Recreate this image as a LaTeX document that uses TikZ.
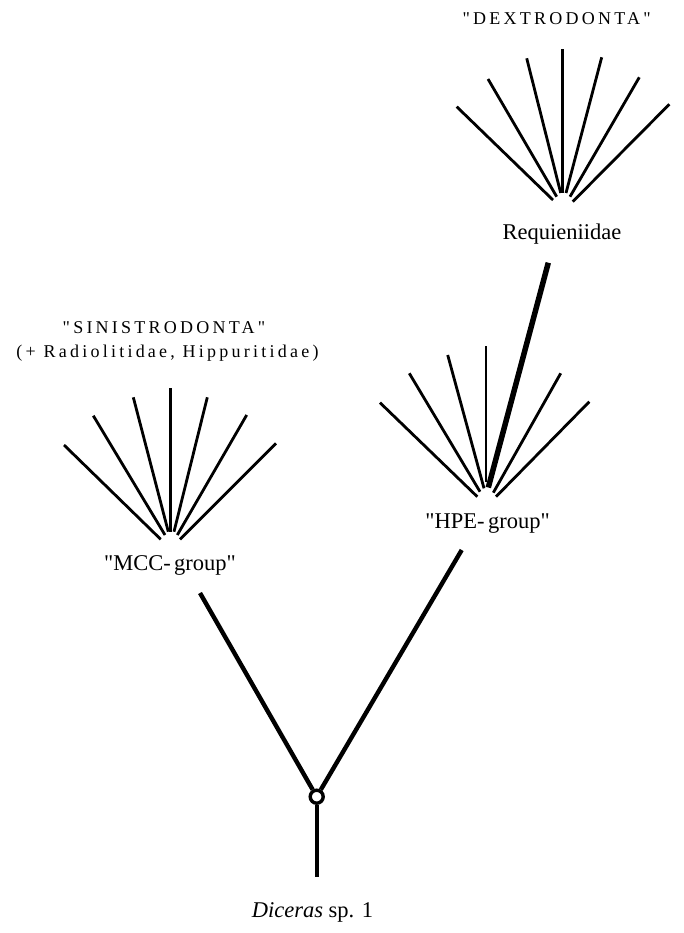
\documentclass[tikz,border=0pt]{standalone}
\usepackage{fontspec}
\setmainfont{Liberation Serif}[Ligatures=TeXOff]
\newfontfamily\spaced{Liberation Serif}[LetterSpace=18,Ligatures=TeXOff]
\begin{document}
\begin{tikzpicture}[x=1pt,y=-1pt,
  fanline/.style={line width=2.8pt},
  branch/.style={line width=4.4pt},
  thickbranch/.style={line width=5.5pt},
  biglabel/.style={font=\fontsize{22.5}{26}\selectfont, inner sep=0pt, anchor=base},
  caplabel/.style={font=\spaced\fontsize{18}{22}\selectfont, inner sep=0pt, anchor=base},
  rootnode/.style={circle, draw, line width=3.4pt, fill=white, minimum size=13pt, inner sep=0pt}]
\useasboundingbox (0,0) rectangle (683,933);

% labels
\node[caplabel] (dextro) at (556.7,25) {"DEXTRODONTA"};
\node[biglabel] (req) at (562,239) {Requieniidae};
\node[caplabel] (sinis) at (164,333) {"SINISTRODONTA"};
\node[caplabel] (radio) at (167.5,357) {(+ Radiolitidae, Hippuritidae)};
\node[biglabel] (hpe) at (487.6,528) {"HPE-\hspace{0.15em}group"};
\node[biglabel] (mcc) at (170,570) {"MCC-\hspace{0.15em}group"};
\node[biglabel] (dic) at (312.5,917) {\textit{Diceras} sp. 1};

% Requieniidae fan
\foreach \ax/\ay/\bx/\by in {456.7/106.7/553/200, 488/79/556.7/196.7, 526.7/58.3/560.7/193,
  562.7/49.3/562.7/193, 601.7/57.3/566/193, 639.3/77.3/570/196.7, 669.3/104.3/572.7/201.7}
  \draw[fanline] (\ax,\ay) -- (\bx,\by);

% HPE fan
\foreach \ax/\ay/\bx/\by in {380/402.7/477.3/496.7, 409.3/373.3/480/491.7, 447.7/355/484/488.3,
  486/346/486/482, 560.7/373.3/493.3/492.7, 589.3/401.7/496/496.7}
  \draw[fanline] (\ax,\ay) -- (\bx,\by);

% MCC fan
\foreach \ax/\ay/\bx/\by in {64/445/160.7/539.3, 93.3/415.7/165/535, 133.3/397.3/168.3/531.7,
  170.7/388.3/170.7/531.7, 207.3/397.3/174/531.7, 246.7/415/177.3/535, 276/443.3/180/539.3}
  \draw[fanline] (\ax,\ay) -- (\bx,\by);

% connectors
\coordinate (reqbase) at (548.3,262.7);
\coordinate (hpeapex) at (488.3,487.5);
\draw[thickbranch] (reqbase) -- (hpeapex);

\node[rootnode] (root) at (316.7,796.7) {};
\coordinate (mccbase) at (200,593);
\coordinate (hpebase) at (461.7,550);
\coordinate (stemend) at (316.7,877);
\draw[branch] (mccbase) -- (root);
\draw[branch] (hpebase) -- (root);
\draw[branch, line width=4pt] (root) -- (stemend);
\end{tikzpicture}
\end{document}
